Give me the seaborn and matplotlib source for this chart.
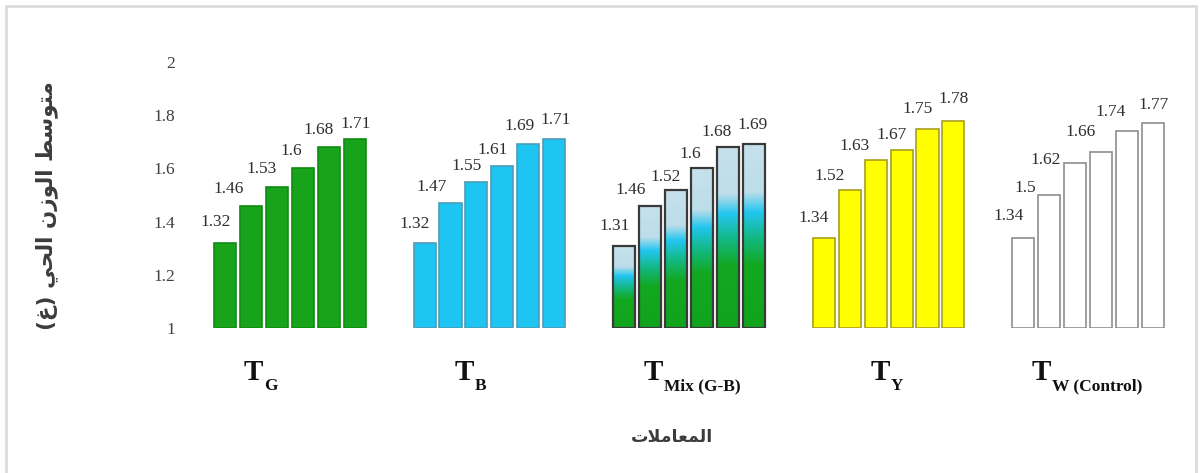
import numpy as np
import pandas as pd
import seaborn as sns
import matplotlib
matplotlib.use("Agg")
import matplotlib.pyplot as plt
from matplotlib.colors import LinearSegmentedColormap
from matplotlib.lines import Line2D

# ---- data -------------------------------------------------------------
groups = ["TG", "TB", "TMix", "TY", "TW"]
tg_values = [1.32, 1.46, 1.53, 1.60, 1.68, 1.71]
tb_values = [1.32, 1.47, 1.55, 1.61, 1.69, 1.71]
tmix_values = [1.31, 1.46, 1.52, 1.60, 1.68, 1.69]
ty_values = [1.34, 1.52, 1.63, 1.67, 1.75, 1.78]
tw_values = [1.34, 1.50, 1.62, 1.66, 1.74, 1.77]
value_labels = ["1.32", "1.46", "1.53", "1.6", "1.68", "1.71",
                "1.32", "1.47", "1.55", "1.61", "1.69", "1.71",
                "1.31", "1.46", "1.52", "1.6", "1.68", "1.69",
                "1.34", "1.52", "1.63", "1.67", "1.75", "1.78",
                "1.34", "1.5", "1.62", "1.66", "1.74", "1.77"]
label_main = ["T", "T", "T", "T", "T"]
label_sub = ["G", "B", "Mix (G-B)", "Y", "W (Control)"]
y_ticks = [1.0, 1.2, 1.4, 1.6, 1.8, 2.0]
y_tick_labels = ["1", "1.2", "1.4", "1.6", "1.8", "2"]
ylabel_text = "متوسط الوزن الحي (غ)"
xlabel_text = "المعاملات"

# ---- styling ----------------------------------------------------------
W, H = 1202, 473
face = {"TG": "#17a31a", "TB": "#1ec4f2", "TMix": "none", "TY": "#ffff00", "TW": "#ffffff"}
edge = {"TG": "#128a14", "TB": "#4d9db5", "TMix": "#3a3a3a", "TY": "#a8a020", "TW": "#8e8e8e"}
# label nudges in pixels (dx, dy above bar top) so neighbouring labels don't collide
label_dx = [[-9, -22, -15, -12, -10, 1],
            [-10, -19, -10, -10, -9, 1],
            [-9, -19, -10, -12, -11, -1],
            [-10, -20, -21, -10, -10, 0],
            [-15, -24, -30, -21, -16, 1]]
label_dy = [[21, 17, 18, 17, 17, 15],
            [19, 16, 16, 16, 18, 19],
            [20, 16, 13, 14, 15, 19],
            [20, 14, 14, 15, 20, 22],
            [22, 7, 3, 20, 19, 18]]
group_dx = [-29, -19, 3, -2, -1]

mix_cmap = LinearSegmentedColormap.from_list(
    "mix", [(0.0, "#10a41c"), (0.34, "#12a820"), (0.50, "#14b98a"),
            (0.63, "#22c6f0"), (0.74, "#bcdde9"), (1.0, "#c6e1ec")])

# ---- Arabic shaping (presentation forms, visual order) ------------------
FORMS = {
    "ا": ("\uFE8D", "\uFE8E", None, None),
    "ت": ("\uFE95", "\uFE96", "\uFE97", "\uFE98"),
    "ح": ("\uFEA1", "\uFEA2", "\uFEA3", "\uFEA4"),
    "ز": ("\uFEAF", "\uFEB0", None, None),
    "س": ("\uFEB1", "\uFEB2", "\uFEB3", "\uFEB4"),
    "ط": ("\uFEC1", "\uFEC2", "\uFEC3", "\uFEC4"),
    "ع": ("\uFEC9", "\uFECA", "\uFECB", "\uFECC"),
    "غ": ("\uFECD", "\uFECE", "\uFECF", "\uFED0"),
    "ل": ("\uFEDD", "\uFEDE", "\uFEDF", "\uFEE0"),
    "م": ("\uFEE1", "\uFEE2", "\uFEE3", "\uFEE4"),
    "ن": ("\uFEE5", "\uFEE6", "\uFEE7", "\uFEE8"),
    "و": ("\uFEED", "\uFEEE", None, None),
    "ي": ("\uFEF1", "\uFEF2", "\uFEF3", "\uFEF4"),
    "\uFEFB": ("\uFEFB", "\uFEFC", None, None),
}


def shape_arabic(text):
    chars = list(text.replace("لا", "\uFEFB"))
    out = []
    for i, c in enumerate(chars):
        if c not in FORMS:
            out.append(c)
            continue
        prev = chars[i - 1] if i > 0 else None
        nxt = chars[i + 1] if i + 1 < len(chars) else None
        join_prev = prev in FORMS and FORMS[prev][2] is not None
        join_next = nxt in FORMS and FORMS[c][2] is not None
        iso, fin, ini, med = FORMS[c]
        if join_prev and join_next:
            out.append(med)
        elif join_prev:
            out.append(fin)
        elif join_next:
            out.append(ini)
        else:
            out.append(iso)
    return "".join(reversed(out)).translate(str.maketrans("()", ")("))


# ---- frame --------------------------------------------------------------
sns.set_theme(style="white")
plt.rcParams["font.family"] = ["Liberation Serif", "DejaVu Serif"]

series = [tg_values, tb_values, tmix_values, ty_values, tw_values]
df = pd.DataFrame({
    "group": np.repeat(groups, 6),
    "rep": np.tile(np.arange(1, 7), len(groups)),
    "value": np.concatenate(series),
})

fig = plt.figure(figsize=(W / 100, H / 100), dpi=100)
fig.patch.set_facecolor("white")
ax = fig.add_axes([190 / W, 1 - 328 / H, 998 / W, 266 / H])

sns.barplot(data=df, x="group", y="value", hue="rep", order=groups,
            hue_order=list(range(1, 7)), dodge=True, width=0.78, gap=0.15,
            palette=["#777777"] * 6, legend=False, errorbar=None,
            saturation=1, ax=ax)

# sort bars left to right and restyle them per group
bars = sorted(ax.patches, key=lambda p: p.get_x())
for k, p in enumerate(bars):
    gi, bi = divmod(k, 6)
    g = groups[gi]
    v = p.get_height()
    p.set_y(1.0)
    p.set_height(v - 1.0)
    p.set_facecolor(face[g])
    p.set_edgecolor(edge[g])
    p.set_linewidth(1.6 if g == "TMix" else 1.2)
    p.set_zorder(3)
    x0, w = p.get_x(), p.get_width()
    if g == "TMix":
        grad = np.linspace(0, 1, 256).reshape(-1, 1)
        im = ax.imshow(grad, cmap=mix_cmap, origin="lower", aspect="auto",
                       extent=(x0, x0 + w, 1.0, v), zorder=2, interpolation="bilinear")
        im.set_clip_path(p)
    ax.annotate(value_labels[k], xy=(x0 + w / 2, v), xycoords="data",
                xytext=(label_dx[gi][bi], label_dy[gi][bi]), textcoords="offset pixels",
                ha="center", va="center", fontsize=12.5, color="#2e2e2e",
                family=["Liberation Serif"], zorder=5)

ax.set_xlim(-0.5, 4.5)
ax.set_ylim(1.0, 2.0)
ax.set_yticks(y_ticks)
ax.set_yticklabels(y_tick_labels, family=["Liberation Serif"], fontsize=12.5, color="#404040")
ax.tick_params(axis="y", length=0, pad=11)
ax.set_xticks([])
ax.set_xlabel("")
ax.set_ylabel("")
for s in ax.spines.values():
    s.set_visible(False)
ax.set_facecolor("none")

# group labels: large "T" with a smaller bold subscript
fig.canvas.draw()
renderer = fig.canvas.get_renderer()
for gi, g in enumerate(groups):
    t = ax.annotate(label_main[gi], xy=(gi, 0), xycoords=("data", "axes fraction"),
                    xytext=(0, -52), textcoords="offset pixels", ha="left",
                    va="baseline", fontsize=21, fontweight="bold", color="#111111",
                    family=["Liberation Serif"])
    s = ax.annotate(label_sub[gi], xy=(1, 0), xycoords=t, xytext=(1, -8),
                    textcoords="offset pixels", ha="left", va="bottom",
                    fontsize=12.5, fontweight="bold", color="#111111",
                    family=["Liberation Serif"])
    fig.canvas.draw()
    bt = t.get_window_extent(renderer)
    bs = s.get_window_extent(renderer)
    total = bs.x1 - bt.x0
    t.set_position((-total / 2 + group_dx[gi], -52))

# axis titles in Arabic
fig.text(47 / W, 1 - 206 / H, shape_arabic(ylabel_text), rotation=90,
         ha="center", va="center", fontsize=15.5, fontweight="bold",
         color="#3c3c3c", family=["DejaVu Sans"])
fig.text(672 / W, 1 - 437 / H, shape_arabic(xlabel_text), ha="center",
         va="center", fontsize=12.5, fontweight="bold", color="#3c3c3c",
         family=["DejaVu Sans"])

# thin light border around the chart area
fc = "#dcdcdc"
fig.add_artist(Line2D([6 / W, 6 / W], [0, 1 - 6 / H], color=fc, lw=2, transform=fig.transFigure))
fig.add_artist(Line2D([6 / W, 1196 / W], [1 - 6 / H, 1 - 6 / H], color=fc, lw=2, transform=fig.transFigure))
fig.add_artist(Line2D([1196 / W, 1196 / W], [0, 1 - 6 / H], color=fc, lw=2, transform=fig.transFigure))

fig.savefig("out.png", dpi=100, facecolor="white")
